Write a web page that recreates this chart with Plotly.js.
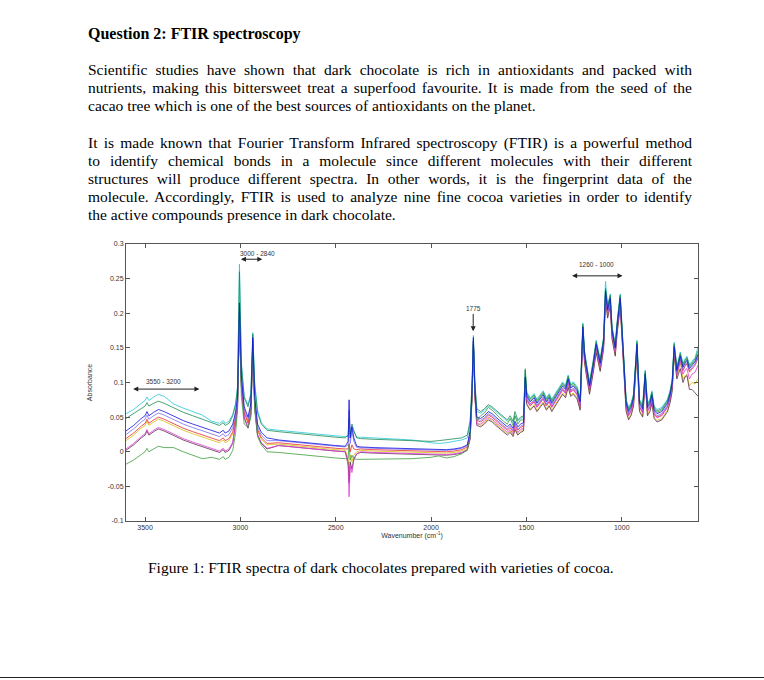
<!DOCTYPE html>
<html>
<head>
<meta charset="utf-8">
<script src="https://cdn.plot.ly/plotly-3.0.1.min.js"></script>
<style>
  html, body { margin: 0; padding: 0; background: #fff; }
  #page { position: relative; width: 764px; height: 680px; overflow: hidden; background: #fff;
          font-family: "Liberation Serif", "Times New Roman", serif; color: #000; }
  .title { position: absolute; left: 88px; top: 25px; font-weight: bold; font-size: 16px; line-height: 18px; white-space: nowrap; }
  .para { position: absolute; left: 88px; width: 604px; font-size: 15.5px; }
  .para div { line-height: 17.9px; height: 17.9px; text-align: justify; text-align-last: justify; white-space: nowrap; }
  .para div.last { text-align-last: left; }
  .caption { position: absolute; left: 148px; top: 559px; font-size: 15.5px; line-height: 18px; white-space: nowrap; }
  #rule { position: absolute; left: 0; top: 677px; width: 764px; height: 0; border-top: 1.5px solid #222; }
  #chart { position: absolute; left: 60px; top: 225px; width: 660px; height: 330px; }
</style>
</head>
<body>
<div id="page">
  <div class="title">Question 2: FTIR spectroscopy</div>
  <div class="para" style="top:61px">
    <div>Scientific studies have shown that dark chocolate is rich in antioxidants and packed with</div>
    <div>nutrients, making this bittersweet treat a superfood favourite. It is made from the seed of the</div>
    <div class="last">cacao tree which is one of the best sources of antioxidants on the planet.</div>
  </div>
  <div class="para" style="top:134px">
    <div>It is made known that Fourier Transform Infrared spectroscopy (FTIR) is a powerful method</div>
    <div>to identify chemical bonds in a molecule since different molecules with their different</div>
    <div>structures will produce different spectra. In other words, it is the fingerprint data of the</div>
    <div>molecule. Accordingly, FTIR is used to analyze nine fine cocoa varieties in order to identify</div>
    <div class="last">the active compounds presence in dark chocolate.</div>
  </div>
  <div id="chart"></div>
  <div class="caption">Figure 1: FTIR spectra of dark chocolates prepared with varieties of cocoa.</div>
  <div id="rule"></div>
</div>
<script>
// ---------------- DATA ----------------
const wavenumber = [3600,3560,3520,3500,3490,3480,3455,3430,3400,3350,3300,3250,3200,3150,3110,3090,3080,3060,3040,
  3025,3015,3005,2995,2980,2960,2945,2935,2925,2910,2890,2860,
  2800,2700,2600,2500,2450,
  2435,2430,2424,2415,2405,2390,
  2370,2300,2200,2100,2000,1960,1920,1880,1840,1810,
  1795,1785,1778,1770,1760,
  1740,1720,1700,1680,1660,1640,1620,1600,1585,1570,1560,1545,1530,1515,
  1506,1498,1480,1460,1445,1430,1412,1395,1380,1367,1350,1330,1310,1295,1281,1268,1254,1234,1218,1204,
  1195,1187,1169,1150,1134,1113,1095,1085,1074,1060,1051,1034,1025,1008,994,977,964,950,938,920,
  907,890,877,865,852,842,830,815,790,760,746,735,725,711,693,679,668,658,645,632,615,600];

const cocoaCyan = [0.055,0.061,0.070,0.074,0.079,0.074,0.079,0.083,0.080,0.069,0.063,0.058,0.053,0.044,0.041,0.045,0.041,0.044,0.054,
  0.070,0.095,0.271,0.130,0.080,0.068,0.085,0.172,0.100,0.060,0.042,0.033,
  0.031,0.028,0.026,0.023,0.022,
  0.022,0.030,0.028,0.035,0.030,0.021,
  0.021,0.020,0.019,0.017,0.013,0.012,0.013,0.015,0.017,0.020,
  0.040,0.095,0.168,0.095,0.058,
  0.056,0.060,0.066,0.063,0.058,0.053,0.048,0.044,0.048,0.042,0.052,0.044,0.048,0.050,
  0.114,0.086,0.078,0.084,0.076,0.081,0.088,0.078,0.084,0.076,0.083,0.091,0.101,0.096,0.111,0.098,0.101,0.094,0.078,0.186,
  0.146,0.131,0.101,0.131,0.161,0.134,0.166,0.246,0.211,0.228,0.181,0.156,0.186,0.228,0.156,0.076,0.064,0.071,0.084,0.161,
  0.076,0.068,0.118,0.070,0.076,0.088,0.066,0.061,0.064,0.076,0.089,0.106,0.158,0.123,0.144,0.128,0.134,0.138,0.126,0.131,0.136,0.152];

const cocoaTeal = [0.048,0.055,0.063,0.066,0.071,0.066,0.070,0.073,0.070,0.063,0.057,0.052,0.047,0.041,0.038,0.042,0.038,0.041,0.052,
  0.068,0.092,0.260,0.125,0.078,0.065,0.082,0.170,0.095,0.056,0.040,0.031,
  0.029,0.026,0.024,0.021,0.020,
  0.025,0.048,0.025,0.040,0.030,0.020,
  0.019,0.018,0.017,0.016,0.015,0.016,0.017,0.019,0.020,0.024,
  0.045,0.100,0.160,0.100,0.062,
  0.058,0.062,0.068,0.065,0.060,0.055,0.050,0.046,0.052,0.044,0.058,0.046,0.050,0.052,
  0.118,0.084,0.076,0.082,0.074,0.079,0.086,0.076,0.082,0.074,0.081,0.089,0.099,0.094,0.109,0.096,0.099,0.092,0.076,0.184,
  0.144,0.129,0.099,0.129,0.159,0.132,0.164,0.236,0.209,0.226,0.179,0.154,0.184,0.226,0.154,0.074,0.062,0.069,0.082,0.159,
  0.074,0.066,0.116,0.068,0.074,0.086,0.064,0.059,0.062,0.074,0.087,0.104,0.156,0.121,0.142,0.126,0.132,0.136,0.124,0.129,0.134,0.146];

const cocoaBlue = [0.030,0.038,0.048,0.052,0.058,0.052,0.057,0.061,0.058,0.051,0.045,0.040,0.035,0.030,0.027,0.031,0.027,0.030,0.040,
  0.058,0.080,0.215,0.110,0.065,0.050,0.070,0.165,0.080,0.040,0.028,0.020,
  0.017,0.014,0.012,0.009,0.008,
  0.015,0.075,0.020,0.036,0.020,0.008,
  0.007,0.006,0.005,0.004,0.004,0.003,0.003,0.004,0.006,0.010,
  0.030,0.090,0.165,0.090,0.050,
  0.048,0.052,0.058,0.055,0.050,0.045,0.040,0.036,0.040,0.034,0.044,0.036,0.040,0.042,
  0.108,0.080,0.072,0.078,0.070,0.075,0.082,0.072,0.078,0.070,0.077,0.085,0.095,0.090,0.105,0.092,0.095,0.088,0.072,0.180,
  0.140,0.125,0.095,0.125,0.155,0.128,0.160,0.232,0.205,0.222,0.175,0.150,0.180,0.222,0.150,0.070,0.058,0.065,0.078,0.155,
  0.070,0.062,0.112,0.064,0.070,0.082,0.060,0.055,0.058,0.070,0.083,0.100,0.152,0.117,0.138,0.122,0.128,0.132,0.120,0.125,0.130,0.140];

const cocoaSlate = [0.025,0.033,0.043,0.047,0.053,0.047,0.052,0.056,0.053,0.046,0.040,0.035,0.030,0.025,0.022,0.026,0.022,0.025,0.035,
  0.054,0.076,0.205,0.106,0.061,0.046,0.066,0.160,0.076,0.036,0.024,0.016,
  0.016,0.013,0.011,0.008,0.007,
  0.010,0.060,0.012,0.030,0.015,0.006,
  0.006,0.005,0.004,0.003,0.003,0.002,0.002,0.003,0.005,0.009,
  0.028,0.088,0.162,0.088,0.048,
  0.045,0.049,0.055,0.052,0.047,0.042,0.037,0.033,0.037,0.031,0.041,0.033,0.037,0.039,
  0.105,0.077,0.069,0.075,0.067,0.072,0.079,0.069,0.075,0.067,0.074,0.082,0.092,0.087,0.102,0.089,0.092,0.085,0.069,0.177,
  0.137,0.122,0.092,0.122,0.152,0.125,0.157,0.229,0.202,0.219,0.172,0.147,0.177,0.219,0.147,0.067,0.055,0.062,0.075,0.152,
  0.067,0.059,0.109,0.061,0.067,0.079,0.057,0.052,0.055,0.067,0.080,0.097,0.149,0.114,0.135,0.119,0.125,0.129,0.117,0.122,0.127,0.137];

const cocoaRed = [0.019,0.027,0.037,0.041,0.047,0.041,0.046,0.050,0.047,0.040,0.034,0.029,0.024,0.019,0.016,0.020,0.016,0.019,0.029,
  0.050,0.072,0.200,0.102,0.057,0.042,0.062,0.155,0.072,0.032,0.020,0.012,
  0.013,0.010,0.008,0.005,0.004,
  0.004,0.012,0.000,0.010,0.004,0.003,
  0.004,0.003,0.002,0.001,0.001,0.000,0.000,0.001,0.003,0.007,
  0.025,0.085,0.160,0.085,0.045,
  0.043,0.047,0.053,0.050,0.045,0.040,0.035,0.031,0.035,0.029,0.039,0.031,0.035,0.037,
  0.103,0.075,0.067,0.073,0.065,0.070,0.077,0.067,0.073,0.065,0.072,0.080,0.090,0.085,0.100,0.087,0.090,0.083,0.067,0.175,
  0.135,0.120,0.090,0.120,0.150,0.123,0.155,0.227,0.200,0.217,0.170,0.145,0.175,0.217,0.145,0.065,0.053,0.060,0.073,0.150,
  0.065,0.057,0.107,0.059,0.065,0.077,0.055,0.050,0.053,0.065,0.078,0.095,0.147,0.112,0.133,0.117,0.123,0.127,0.115,0.120,0.125,0.135];

const cocoaYellow = [0.016,0.024,0.034,0.038,0.044,0.038,0.043,0.047,0.044,0.037,0.031,0.026,0.021,0.016,0.013,0.017,0.013,0.016,0.026,
  0.048,0.070,0.195,0.100,0.055,0.040,0.060,0.152,0.070,0.030,0.018,0.010,
  0.011,0.008,0.006,0.003,0.002,
  -0.010,-0.040,-0.005,-0.015,-0.005,0.000,
  0.002,0.001,0.000,-0.001,-0.001,-0.002,-0.002,-0.001,0.001,0.005,
  0.022,0.082,0.158,0.082,0.042,
  0.038,0.042,0.048,0.045,0.040,0.035,0.030,0.026,0.030,0.024,0.034,0.026,0.030,0.032,
  0.098,0.070,0.062,0.068,0.060,0.065,0.072,0.062,0.068,0.060,0.067,0.075,0.085,0.080,0.095,0.082,0.085,0.078,0.062,0.170,
  0.130,0.115,0.085,0.115,0.145,0.118,0.150,0.222,0.195,0.212,0.165,0.140,0.170,0.212,0.140,0.060,0.048,0.055,0.068,0.145,
  0.060,0.052,0.102,0.054,0.060,0.072,0.050,0.045,0.048,0.060,0.073,0.090,0.142,0.107,0.128,0.105,0.110,0.112,0.095,0.100,0.098,0.105];

const cocoaMagenta = [0.004,0.012,0.022,0.026,0.032,0.026,0.031,0.035,0.032,0.025,0.019,0.014,0.009,0.004,0.001,0.005,0.001,0.004,0.014,
  0.043,0.065,0.190,0.095,0.050,0.035,0.055,0.150,0.065,0.025,0.013,0.005,
  0.009,0.006,0.004,0.001,0.000,
  -0.020,-0.065,-0.020,-0.030,-0.012,-0.003,
  0.000,-0.001,-0.002,-0.003,-0.003,-0.004,-0.004,-0.003,-0.001,0.003,
  0.020,0.080,0.158,0.080,0.040,
  0.040,0.044,0.050,0.047,0.042,0.037,0.032,0.028,0.032,0.026,0.036,0.028,0.032,0.034,
  0.102,0.074,0.066,0.072,0.064,0.069,0.076,0.066,0.072,0.064,0.071,0.079,0.089,0.084,0.099,0.086,0.089,0.082,0.066,0.174,
  0.134,0.119,0.089,0.119,0.149,0.122,0.154,0.226,0.199,0.216,0.169,0.144,0.174,0.216,0.144,0.064,0.052,0.059,0.072,0.149,
  0.064,0.056,0.106,0.058,0.064,0.076,0.054,0.049,0.052,0.064,0.077,0.094,0.146,0.111,0.132,0.112,0.118,0.120,0.105,0.112,0.115,0.125];

const cocoaDark = [0.002,0.010,0.020,0.024,0.030,0.024,0.029,0.033,0.030,0.023,0.017,0.012,0.007,0.002,-0.001,0.003,-0.001,0.002,0.012,
  0.042,0.064,0.185,0.094,0.049,0.034,0.054,0.148,0.064,0.024,0.012,0.004,
  0.009,0.006,0.004,0.001,0.000,
  -0.015,-0.045,-0.015,-0.025,-0.010,-0.003,
  -0.001,-0.002,-0.003,-0.004,-0.004,-0.005,-0.005,-0.004,-0.002,0.002,
  0.018,0.078,0.156,0.078,0.038,
  0.036,0.040,0.046,0.043,0.038,0.033,0.028,0.024,0.028,0.022,0.032,0.024,0.028,0.030,
  0.096,0.068,0.060,0.066,0.058,0.063,0.070,0.060,0.066,0.058,0.065,0.073,0.083,0.078,0.093,0.080,0.083,0.076,0.060,0.168,
  0.128,0.113,0.083,0.113,0.143,0.116,0.148,0.220,0.193,0.210,0.163,0.138,0.168,0.210,0.138,0.058,0.046,0.053,0.066,0.143,
  0.058,0.050,0.100,0.052,0.058,0.070,0.048,0.043,0.046,0.058,0.071,0.088,0.140,0.105,0.120,0.100,0.108,0.110,0.090,0.090,0.085,0.080];

const cocoaGreen = [-0.018,-0.012,-0.004,0.000,0.005,0.000,0.004,0.008,0.006,0.006,0.000,-0.005,-0.010,-0.008,-0.011,-0.007,-0.011,-0.008,0.002,
  0.028,0.060,0.205,0.080,0.040,0.035,0.050,0.160,0.060,0.022,0.010,0.000,
  -0.001,-0.004,-0.006,-0.009,-0.010,
  -0.010,0.010,-0.012,-0.005,-0.010,-0.011,
  -0.011,-0.011,-0.010,-0.010,-0.008,-0.006,-0.009,-0.007,-0.003,0.003,
  0.020,0.080,0.155,0.085,0.045,
  0.052,0.056,0.064,0.060,0.054,0.049,0.044,0.040,0.048,0.038,0.052,0.040,0.046,0.046,
  0.120,0.082,0.074,0.080,0.072,0.077,0.084,0.074,0.080,0.072,0.079,0.087,0.097,0.092,0.107,0.094,0.097,0.090,0.074,0.182,
  0.142,0.127,0.097,0.127,0.157,0.130,0.162,0.234,0.207,0.224,0.177,0.152,0.182,0.224,0.152,0.072,0.060,0.067,0.080,0.157,
  0.072,0.064,0.114,0.066,0.072,0.084,0.062,0.057,0.060,0.072,0.085,0.102,0.154,0.119,0.140,0.124,0.130,0.134,0.122,0.127,0.132,0.142];

const xTickVals = [3500, 3000, 2500, 2000, 1500, 1000];
const xTickText = ["3500", "3000", "2500", "2000", "1500", "1000"];
const yTickVals = [-0.1, -0.05, 0, 0.05, 0.1, 0.15, 0.2, 0.25, 0.3];
const yTickText = ["-0.1", "-0.05", "0", "0.05", "0.1", "0.15", "0.2", "0.25", "0.3"];

const bandLabels = ["3550 - 3200", "3000 - 2840", "1775", "1260 - 1000"];

// ---------------- CHART ----------------
const seriesList = [
  {y: cocoaYellow,  color: "#d6be10"},
  {y: cocoaRed,     color: "#ea2a2a"},
  {y: cocoaDark,    color: "#5a2d4c"},
  {y: cocoaMagenta, color: "#e03ad8"},
  {y: cocoaSlate,   color: "#7a6cf0"},
  {y: cocoaCyan,    color: "#25c6d8"},
  {y: cocoaGreen,   color: "#3c9c3c"},
  {y: cocoaTeal,    color: "#1a8a52"},
  {y: cocoaBlue,    color: "#1010e0"}
];

const traces = seriesList.map(s => ({
  type: "scatter", mode: "lines", x: wavenumber, y: s.y,
  line: {color: s.color, width: 0.8}, hoverinfo: "skip", showlegend: false
}));

const lblFont = {family: "Liberation Sans, Arial, sans-serif", size: 6.5, color: "#333"};
const arrowBase = {xref: "x", yref: "y", axref: "x", ayref: "y", showarrow: true, text: "",
  arrowcolor: "#222", arrowwidth: 1, arrowhead: 2, arrowsize: 1};

const annotations = [
  {x: 2910, y: 0.287, xref: "x", yref: "y", text: bandLabels[1], showarrow: false, font: lblFont},
  Object.assign({}, arrowBase, {x: 2885, y: 0.278, ax: 3005, ay: 0.278, arrowside: "end+start"}),
  {x: 1134, y: 0.271, xref: "x", yref: "y", text: bandLabels[3], showarrow: false, font: lblFont},
  Object.assign({}, arrowBase, {x: 996, y: 0.254, ax: 1268, ay: 0.254, arrowside: "end+start"}),
  Object.assign({}, arrowBase, {x: 1779, y: 0.174, ax: 1779, ay: 0.199, text: bandLabels[2], font: lblFont, yanchor: "bottom", standoff: 0, startstandoff: 0}),
  {x: 3405, y: 0.102, xref: "x", yref: "y", text: bandLabels[0], showarrow: false, font: lblFont},
  Object.assign({}, arrowBase, {x: 3215, y: 0.0905, ax: 3570, ay: 0.0905, arrowside: "end+start"})
];

const axisCommon = {
  showgrid: false, zeroline: false, showline: true, linecolor: "#555", linewidth: 1,
  mirror: "ticks", ticks: "inside", ticklen: 4, tickcolor: "#555", tickwidth: 1,
  tickfont: {family: "Liberation Sans, Arial, sans-serif", size: 7, color: "#333"},
  tickmode: "array", fixedrange: true
};

const layout = {
  width: 660, height: 330,
  margin: {l: 66, r: 22, t: 19, b: 34},
  paper_bgcolor: "rgba(0,0,0,0)", plot_bgcolor: "#fff",
  xaxis: Object.assign({}, axisCommon, {
    range: [3600, 600], tickvals: xTickVals, ticktext: xTickText,
    title: {text: "Wavenumber (cm<sup>-1</sup>)", font: {family: "Liberation Sans, Arial, sans-serif", size: 7, color: "#333"}, standoff: 2}
  }),
  yaxis: Object.assign({}, axisCommon, {
    range: [-0.1, 0.3], tickvals: yTickVals, ticktext: yTickText,
    title: {text: "Absorbance", font: {family: "Liberation Sans, Arial, sans-serif", size: 7, color: "#333"}, standoff: 14}
  }),
  annotations: annotations
};

Plotly.newPlot("chart", traces, layout, {staticPlot: true, displayModeBar: false});
</script>
</body>
</html>
